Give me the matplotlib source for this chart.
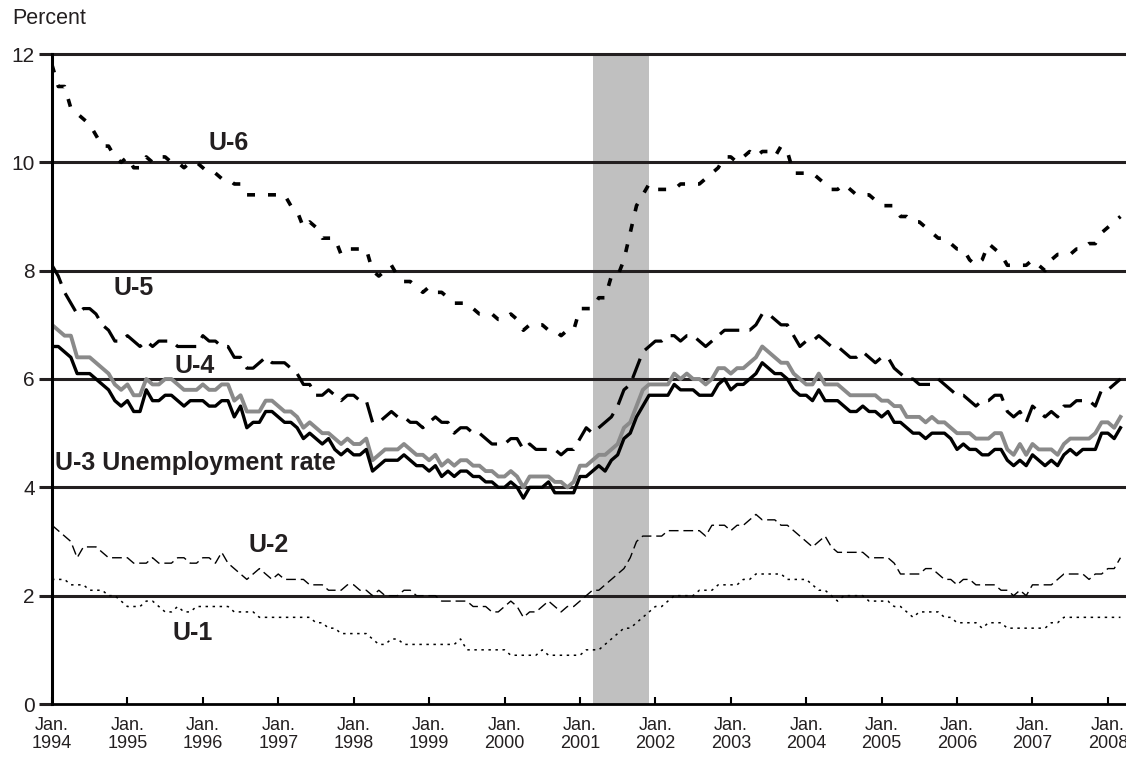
import numpy as np
import matplotlib
matplotlib.use("Agg")
import matplotlib.pyplot as plt

plt.rcParams["font.family"] = ["Liberation Sans", "DejaVu Sans"]

# monthly values, Jan 1994 - Mar 2008 (percent)
u1 = [2.3, 2.3, 2.3, 2.2, 2.2, 2.2, 2.1, 2.1, 2.1, 2.0, 2.0, 1.9,
      1.8, 1.8, 1.8, 1.9, 1.9, 1.8, 1.7, 1.7, 1.8, 1.7, 1.7, 1.8,
      1.8, 1.8, 1.8, 1.8, 1.8, 1.7, 1.7, 1.7, 1.7, 1.6, 1.6, 1.6,
      1.6, 1.6, 1.6, 1.6, 1.6, 1.6, 1.5, 1.5, 1.4, 1.4, 1.3, 1.3,
      1.3, 1.3, 1.3, 1.2, 1.1, 1.1, 1.2, 1.2, 1.1, 1.1, 1.1, 1.1,
      1.1, 1.1, 1.1, 1.1, 1.1, 1.2, 1.0, 1.0, 1.0, 1.0, 1.0, 1.0,
      1.0, 0.9, 0.9, 0.9, 0.9, 0.9, 1.0, 0.9, 0.9, 0.9, 0.9, 0.9,
      0.9, 1.0, 1.0, 1.0, 1.1, 1.2, 1.3, 1.4, 1.4, 1.5, 1.6, 1.7,
      1.8, 1.8, 1.9, 2.0, 2.0, 2.0, 2.0, 2.1, 2.1, 2.1, 2.2, 2.2,
      2.2, 2.2, 2.3, 2.3, 2.4, 2.4, 2.4, 2.4, 2.4, 2.3, 2.3, 2.3,
      2.3, 2.2, 2.1, 2.1, 2.0, 1.9, 2.0, 2.0, 2.0, 2.0, 1.9, 1.9,
      1.9, 1.9, 1.8, 1.8, 1.7, 1.6, 1.7, 1.7, 1.7, 1.7, 1.6, 1.6,
      1.5, 1.5, 1.5, 1.5, 1.4, 1.5, 1.5, 1.5, 1.4, 1.4, 1.4, 1.4,
      1.4, 1.4, 1.4, 1.5, 1.5, 1.6, 1.6, 1.6, 1.6, 1.6, 1.6, 1.6,
      1.6, 1.6, 1.6]

u2 = [3.3, 3.2, 3.1, 3.0, 2.7, 2.9, 2.9, 2.9, 2.8, 2.7, 2.7, 2.7,
      2.7, 2.6, 2.6, 2.6, 2.7, 2.6, 2.6, 2.6, 2.7, 2.7, 2.6, 2.6,
      2.7, 2.7, 2.6, 2.8, 2.6, 2.5, 2.4, 2.3, 2.4, 2.5, 2.4, 2.3,
      2.4, 2.3, 2.3, 2.3, 2.3, 2.2, 2.2, 2.2, 2.1, 2.1, 2.1, 2.2,
      2.2, 2.1, 2.1, 2.0, 2.1, 2.0, 2.0, 2.0, 2.1, 2.1, 2.0, 2.0,
      2.0, 2.0, 1.9, 1.9, 1.9, 1.9, 1.9, 1.8, 1.8, 1.8, 1.7, 1.7,
      1.8, 1.9, 1.8, 1.6, 1.7, 1.7, 1.8, 1.9, 1.8, 1.7, 1.8, 1.8,
      1.9, 2.0, 2.1, 2.1, 2.2, 2.3, 2.4, 2.5, 2.7, 3.0, 3.1, 3.1,
      3.1, 3.1, 3.2, 3.2, 3.2, 3.2, 3.2, 3.2, 3.1, 3.3, 3.3, 3.3,
      3.2, 3.3, 3.3, 3.4, 3.5, 3.4, 3.4, 3.4, 3.3, 3.3, 3.2, 3.1,
      3.0, 2.9, 3.0, 3.1, 2.9, 2.8, 2.8, 2.8, 2.8, 2.8, 2.7, 2.7,
      2.7, 2.7, 2.6, 2.4, 2.4, 2.4, 2.4, 2.5, 2.5, 2.4, 2.3, 2.3,
      2.2, 2.3, 2.3, 2.2, 2.2, 2.2, 2.2, 2.1, 2.1, 2.0, 2.1, 2.0,
      2.2, 2.2, 2.2, 2.2, 2.3, 2.4, 2.4, 2.4, 2.4, 2.3, 2.4, 2.4,
      2.5, 2.5, 2.7]

u3 = [6.6, 6.6, 6.5, 6.4, 6.1, 6.1, 6.1, 6.0, 5.9, 5.8, 5.6, 5.5,
      5.6, 5.4, 5.4, 5.8, 5.6, 5.6, 5.7, 5.7, 5.6, 5.5, 5.6, 5.6,
      5.6, 5.5, 5.5, 5.6, 5.6, 5.3, 5.5, 5.1, 5.2, 5.2, 5.4, 5.4,
      5.3, 5.2, 5.2, 5.1, 4.9, 5.0, 4.9, 4.8, 4.9, 4.7, 4.6, 4.7,
      4.6, 4.6, 4.7, 4.3, 4.4, 4.5, 4.5, 4.5, 4.6, 4.5, 4.4, 4.4,
      4.3, 4.4, 4.2, 4.3, 4.2, 4.3, 4.3, 4.2, 4.2, 4.1, 4.1, 4.0,
      4.0, 4.1, 4.0, 3.8, 4.0, 4.0, 4.0, 4.1, 3.9, 3.9, 3.9, 3.9,
      4.2, 4.2, 4.3, 4.4, 4.3, 4.5, 4.6, 4.9, 5.0, 5.3, 5.5, 5.7,
      5.7, 5.7, 5.7, 5.9, 5.8, 5.8, 5.8, 5.7, 5.7, 5.7, 5.9, 6.0,
      5.8, 5.9, 5.9, 6.0, 6.1, 6.3, 6.2, 6.1, 6.1, 6.0, 5.8, 5.7,
      5.7, 5.6, 5.8, 5.6, 5.6, 5.6, 5.5, 5.4, 5.4, 5.5, 5.4, 5.4,
      5.3, 5.4, 5.2, 5.2, 5.1, 5.0, 5.0, 4.9, 5.0, 5.0, 5.0, 4.9,
      4.7, 4.8, 4.7, 4.7, 4.6, 4.6, 4.7, 4.7, 4.5, 4.4, 4.5, 4.4,
      4.6, 4.5, 4.4, 4.5, 4.4, 4.6, 4.7, 4.6, 4.7, 4.7, 4.7, 5.0,
      5.0, 4.9, 5.1]

u4 = [7.0, 6.9, 6.8, 6.8, 6.4, 6.4, 6.4, 6.3, 6.2, 6.1, 5.9, 5.8,
      5.9, 5.7, 5.7, 6.0, 5.9, 5.9, 6.0, 6.0, 5.9, 5.8, 5.8, 5.8,
      5.9, 5.8, 5.8, 5.9, 5.9, 5.6, 5.7, 5.4, 5.4, 5.4, 5.6, 5.6,
      5.5, 5.4, 5.4, 5.3, 5.1, 5.2, 5.1, 5.0, 5.0, 4.9, 4.8, 4.9,
      4.8, 4.8, 4.9, 4.5, 4.6, 4.7, 4.7, 4.7, 4.8, 4.7, 4.6, 4.6,
      4.5, 4.6, 4.4, 4.5, 4.4, 4.5, 4.5, 4.4, 4.4, 4.3, 4.3, 4.2,
      4.2, 4.3, 4.2, 4.0, 4.2, 4.2, 4.2, 4.2, 4.1, 4.1, 4.0, 4.1,
      4.4, 4.4, 4.5, 4.6, 4.6, 4.7, 4.8, 5.1, 5.2, 5.5, 5.8, 5.9,
      5.9, 5.9, 5.9, 6.1, 6.0, 6.1, 6.0, 6.0, 5.9, 6.0, 6.2, 6.2,
      6.1, 6.2, 6.2, 6.3, 6.4, 6.6, 6.5, 6.4, 6.3, 6.3, 6.1, 6.0,
      5.9, 5.9, 6.1, 5.9, 5.9, 5.9, 5.8, 5.7, 5.7, 5.7, 5.7, 5.7,
      5.6, 5.6, 5.5, 5.5, 5.3, 5.3, 5.3, 5.2, 5.3, 5.2, 5.2, 5.1,
      5.0, 5.0, 5.0, 4.9, 4.9, 4.9, 5.0, 5.0, 4.7, 4.6, 4.8, 4.6,
      4.8, 4.7, 4.7, 4.7, 4.6, 4.8, 4.9, 4.9, 4.9, 4.9, 5.0, 5.2,
      5.2, 5.1, 5.3]

u5 = [8.1, 7.9, 7.6, 7.4, 7.2, 7.3, 7.3, 7.2, 7.0, 6.9, 6.7, 6.7,
      6.8, 6.7, 6.6, 6.7, 6.6, 6.7, 6.7, 6.7, 6.6, 6.6, 6.6, 6.6,
      6.8, 6.7, 6.7, 6.6, 6.6, 6.4, 6.4, 6.2, 6.2, 6.3, 6.4, 6.3,
      6.3, 6.3, 6.2, 6.1, 5.9, 5.9, 5.7, 5.7, 5.8, 5.7, 5.6, 5.7,
      5.7, 5.6, 5.6, 5.2, 5.2, 5.3, 5.4, 5.3, 5.3, 5.2, 5.2, 5.1,
      5.2, 5.3, 5.2, 5.2, 5.0, 5.1, 5.1, 5.0, 5.0, 4.9, 4.8, 4.8,
      4.8, 4.9, 4.9, 4.7, 4.8, 4.7, 4.7, 4.7, 4.7, 4.6, 4.7, 4.7,
      4.9, 5.1, 5.0, 5.1, 5.2, 5.3, 5.5, 5.8, 5.9, 6.2, 6.5, 6.6,
      6.7, 6.7, 6.8, 6.8, 6.7, 6.8, 6.8, 6.7, 6.6, 6.7, 6.8, 6.9,
      6.9, 6.9, 6.9, 6.9, 7.0, 7.2, 7.2, 7.1, 7.0, 7.0, 6.8, 6.6,
      6.7, 6.7, 6.8, 6.7, 6.6, 6.6, 6.5, 6.4, 6.4, 6.5, 6.4, 6.3,
      6.4, 6.4, 6.2, 6.1, 6.0, 6.0, 5.9, 5.9, 5.9, 6.0, 5.9, 5.8,
      5.7, 5.7, 5.6, 5.5, 5.6, 5.6, 5.7, 5.7, 5.4, 5.3, 5.4, 5.2,
      5.5, 5.4, 5.3, 5.4, 5.3, 5.5, 5.5, 5.6, 5.6, 5.6, 5.5, 5.8,
      5.8, 5.9, 6.0]

u6 = [11.8, 11.4, 11.4, 11.0, 10.9, 10.8, 10.7, 10.5, 10.3, 10.3, 10.1, 10.0,
      10.1, 9.9, 9.9, 10.1, 10.0, 10.1, 10.1, 10.0, 10.0, 9.9, 10.0, 10.0,
      9.9, 9.8, 9.8, 9.7, 9.7, 9.6, 9.6, 9.4, 9.4, 9.4, 9.4, 9.4,
      9.4, 9.4, 9.2, 9.1, 8.8, 8.9, 8.8, 8.6, 8.6, 8.6, 8.3, 8.4,
      8.4, 8.4, 8.4, 8.0, 7.9, 8.0, 8.1, 7.9, 7.8, 7.8, 7.7, 7.6,
      7.7, 7.6, 7.6, 7.5, 7.4, 7.4, 7.4, 7.3, 7.2, 7.2, 7.2, 7.1,
      7.1, 7.2, 7.1, 6.9, 7.0, 7.0, 7.0, 6.9, 6.9, 6.8, 6.9, 6.9,
      7.3, 7.3, 7.3, 7.5, 7.5, 7.9, 7.9, 8.2, 8.7, 9.2, 9.4, 9.6,
      9.5, 9.5, 9.5, 9.5, 9.6, 9.6, 9.6, 9.6, 9.7, 9.8, 9.9, 10.1,
      10.1, 10.0, 10.1, 10.2, 10.1, 10.2, 10.2, 10.1, 10.3, 10.2, 9.8, 9.8,
      9.8, 9.8, 9.7, 9.6, 9.5, 9.5, 9.6, 9.5, 9.4, 9.4, 9.4, 9.3,
      9.2, 9.2, 9.2, 9.0, 9.0, 8.9, 8.9, 8.8, 8.7, 8.6, 8.6, 8.5,
      8.4, 8.4, 8.2, 8.1, 8.2, 8.5, 8.4, 8.3, 8.1, 8.1, 8.1, 8.1,
      8.2, 8.1, 8.0, 8.2, 8.3, 8.3, 8.3, 8.4, 8.4, 8.5, 8.5, 8.7,
      8.8, 8.9, 9.0]

years = list(range(1994, 2009))
year_labels = ["Jan.\n%d" % y for y in years]
recession = (2001 + 2 / 12, 2001 + 11 / 12)

months = 1994 + np.arange(len(u3)) / 12

ink = "#231f20"
fig = plt.figure(figsize=(11.26, 7.61), dpi=100)
ax = fig.add_axes([52 / 1126, 57 / 761, 1 - 52 / 1126, 650 / 761])

ax.axvspan(*recession, color="#c0c0c0", lw=0, zorder=0)
for y in range(2, 13, 2):
    ax.axhline(y, color=ink, lw=2.2, zorder=1, clip_on=False)

ax.plot(months, u1, color="black", lw=1.1, ls=(0, (1.6, 3.0)), zorder=3)
ax.plot(months, u2, color="black", lw=1.0, ls=(0, (7, 3.5)), zorder=3)
ax.plot(months, u4, color="#8a8a8a", lw=2.8, zorder=3)
ax.plot(months, u3, color="black", lw=2.4, zorder=4)
ax.plot(months, u5, color="black", lw=2.3, ls=(0, (6.5, 3.2)), zorder=3)
ax.plot(months, u6, color="black", lw=2.6, ls=(0, (2.2, 3.6)), zorder=3)

ax.set_xlim(1994, 2008.24)
ax.set_ylim(0, 12)
ax.set_yticks(range(0, 13, 2))
ax.set_xticks(years)
ax.set_xticklabels(year_labels, fontsize=13, color=ink, linespacing=1.1)
ax.tick_params(axis="y", direction="out", length=9.5, width=2.2, color=ink,
               labelsize=15, labelcolor=ink, pad=3)
ax.tick_params(axis="x", direction="in", length=5, width=1.5, color="black",
               pad=9)

for s in ["top", "right"]:
    ax.spines[s].set_visible(False)
ax.spines["left"].set_linewidth(2.2)
ax.spines["left"].set_zorder(5)
ax.spines["bottom"].set_linewidth(2.0)
ax.spines["bottom"].set_zorder(5)

lab = dict(fontsize=18, fontweight="bold", color=ink, va="center", ha="left")
ax.text(1996.07, 10.36, "U-6", **lab)
ax.text(1994.81, 7.68, "U-5", **lab)
ax.text(1995.63, 6.24, "U-4", **lab)
ax.text(1994.04, 4.45, "U-3 Unemployment rate", **lab)
ax.text(1996.6, 2.93, "U-2", **lab)
ax.text(1995.6, 1.31, "U-1", **lab)

fig.text(12 / 1126, 1 - 18 / 761, "Percent", fontsize=15.5, color=ink,
         va="center", ha="left")

fig.savefig("out.png", dpi=100)
